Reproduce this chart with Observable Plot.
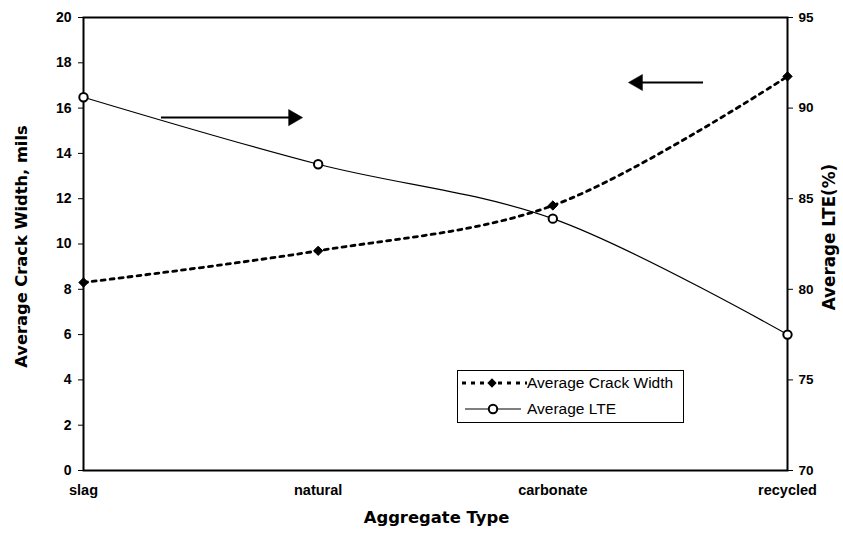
<!DOCTYPE html>
<html>
<head>
<meta charset="utf-8">
<script src="https://cdn.jsdelivr.net/npm/d3@7"></script>
<script src="https://cdn.jsdelivr.net/npm/@observablehq/plot@0.6"></script>
<style>
  html, body { margin: 0; padding: 0; background: white; }
  #wrap { position: relative; width: 843px; height: 538px; }
  #legend { position: absolute; left: 0; top: 0; pointer-events: none; }
</style>
</head>
<body>
<div id="wrap"></div>
<script>
// ---- data ----
const categories = ["slag", "natural", "carbonate", "recycled"];
const crackWidth = [8.3, 9.7, 11.7, 17.4];      // mils (left axis)
const lte = [90.6, 86.9, 83.9, 77.5];           // % (right axis)
const leftTicks = [0, 2, 4, 6, 8, 10, 12, 14, 16, 18, 20];
const rightTicks = [70, 75, 80, 85, 90, 95];
const seriesNames = ["Average Crack Width", "Average LTE"];
const xTitle = "Aggregate Type";
const yLeftTitle = "Average Crack Width, mils";
const yRightTitle = "Average LTE(%)";
// annotation arrows (x in category index units, y in left-axis units)
const arrowStartX = [0.33, 2.64];
const arrowHeadX = [0.894, 2.362];
const arrowY = [15.58, 17.13];
const arrowRotate = [90, -90];

// right axis mapping onto left scale
const R0 = 70, R1 = 95, L0 = 0, L1 = 20;
const toLeft = v => L0 + (v - R0) * (L1 - L0) / (R1 - R0);
const toRight = v => R0 + (v - L0) * (R1 - R0) / (L1 - L0);

const crackData = categories.map((c, i) => ({i, v: crackWidth[i]}));
const lteData = categories.map((c, i) => ({i, v: toLeft(lte[i])}));
const arrows = arrowStartX.map((x, k) => ({x1: x, x2: arrowHeadX[k], y: arrowY[k], r: arrowRotate[k]}));

const font = "'Liberation Sans', Arial, Helvetica, sans-serif";
const titleFont = "'DejaVu Sans', Verdana, sans-serif";

const chart = Plot.plot({
  width: 843,
  height: 538,
  marginLeft: 83,
  marginRight: 56,
  marginTop: 17,
  marginBottom: 68,
  x: {domain: [0, 3]},
  y: {domain: [0, 20]},
  style: {fontFamily: font, fontSize: "14px", fontWeight: "bold", color: "black", background: "white"},
  marks: [
    Plot.axisY(leftTicks, {anchor: "left", tickSize: 5, tickPadding: 7, label: null, fontSize: 14, fontWeight: "bold"}),
    Plot.axisY(rightTicks.map(toLeft), {anchor: "right", tickSize: 5, tickPadding: 6, label: null,
      tickFormat: d => String(Math.round(toRight(d))), fontSize: 13.5, fontWeight: "bold"}),
    Plot.axisX([0, 1, 2, 3], {tickSize: 0, tickPadding: 14, label: null,
      tickFormat: i => categories[i], fontSize: 14.5, fontWeight: "bold"}),
    Plot.frame({stroke: "black", strokeWidth: 2}),
    Plot.line(lteData, {x: "i", y: "v", curve: "catmull-rom", stroke: "black", strokeWidth: 1.2}),
    Plot.line(crackData, {x: "i", y: "v", curve: "catmull-rom", stroke: "black", strokeWidth: 2.8, strokeDasharray: "4,5"}),
    Plot.dot(lteData, {x: "i", y: "v", r: 4.2, symbol: "circle", stroke: "black", strokeWidth: 2, fill: "white"}),
    Plot.dot(crackData, {x: "i", y: "v", r: 4.2, symbol: "diamond2", fill: "black", stroke: "black", strokeWidth: 1}),
    Plot.link(arrows, {x1: "x1", x2: "x2", y1: "y", y2: "y", stroke: "black", strokeWidth: 2}),
    Plot.dot(arrows, {x: "x2", y: "y", symbol: "triangle", r: 6, rotate: "r", fill: "black", stroke: "black", strokeWidth: 0.5}),
    Plot.text([yLeftTitle], {frameAnchor: "left", dx: -61.5, dy: 2.5, rotate: -90, textAnchor: "middle",
      fontSize: 16.3, fontWeight: "bold", fontFamily: titleFont}),
    Plot.text([yRightTitle], {frameAnchor: "right", dx: 42, dy: -7, rotate: -90, textAnchor: "middle",
      fontSize: 16.8, fontWeight: "bold", fontFamily: titleFont}),
    Plot.text([xTitle], {frameAnchor: "bottom", dx: 1, dy: 52, textAnchor: "middle",
      fontSize: 16.4, fontWeight: "bold", fontFamily: titleFont})
  ]
});
const wrap = document.getElementById("wrap");
wrap.appendChild(chart);

// ---- legend (inside plot area, lower middle) ----
const lg = d3.create("svg").attr("id", "legend").attr("width", 843).attr("height", 538)
  .attr("font-family", font);
lg.append("rect").attr("x", 457.5).attr("y", 370.5).attr("width", 226).attr("height", 52)
  .attr("fill", "white").attr("stroke", "black").attr("stroke-width", 1);
// row 1
lg.append("line").attr("x1", 462).attr("x2", 527).attr("y1", 383).attr("y2", 383)
  .attr("stroke", "black").attr("stroke-width", 2.8).attr("stroke-dasharray", "4,5");
lg.append("path").attr("d", d3.symbol(d3.symbolDiamond2, 4.2 * 4.2 * Math.PI)())
  .attr("transform", "translate(492,383)").attr("fill", "black");
lg.append("text").attr("x", 527).attr("y", 383).attr("dy", "0.35em").attr("font-size", 15.5)
  .text(seriesNames[0]);
// row 2
lg.append("line").attr("x1", 465).attr("x2", 521).attr("y1", 409).attr("y2", 409)
  .attr("stroke", "black").attr("stroke-width", 1.2);
lg.append("circle").attr("cx", 493).attr("cy", 409).attr("r", 4.2)
  .attr("fill", "white").attr("stroke", "black").attr("stroke-width", 2);
lg.append("text").attr("x", 527).attr("y", 409).attr("dy", "0.35em").attr("font-size", 15.5)
  .text(seriesNames[1]);
wrap.appendChild(lg.node());
</script>
</body>
</html>
